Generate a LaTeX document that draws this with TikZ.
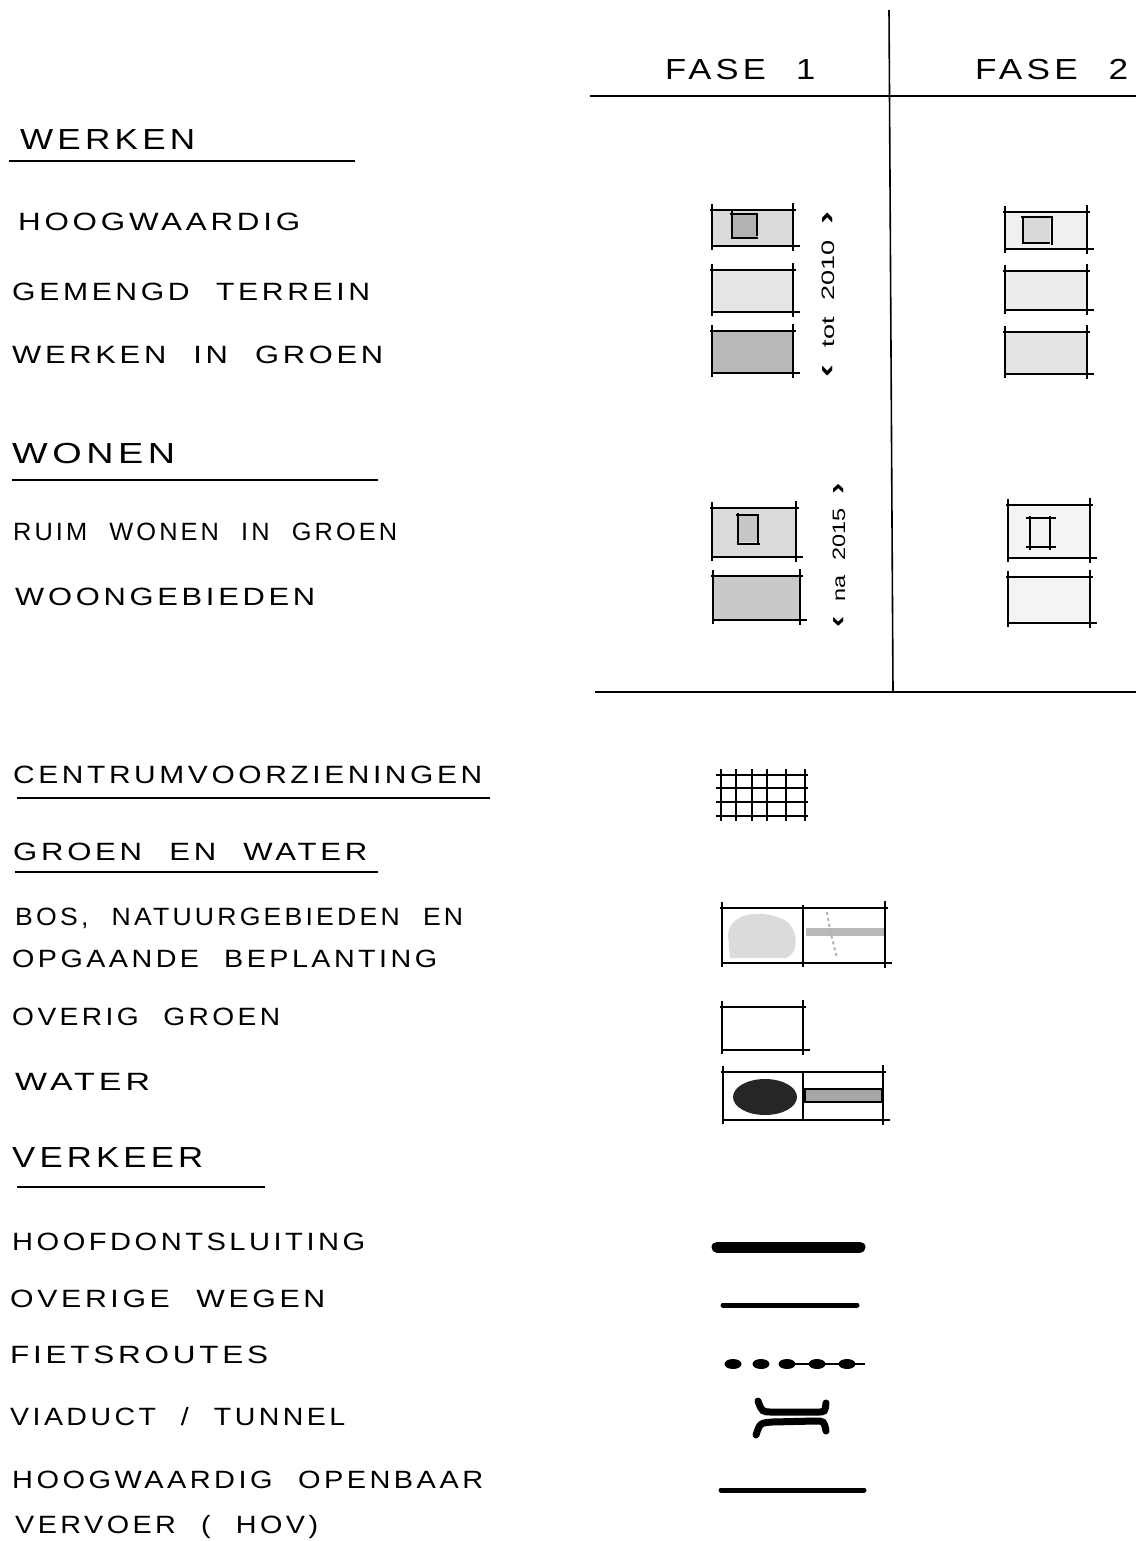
\documentclass[tikz,border=0pt]{standalone}
\usepackage{fontspec}
\setmainfont{Liberation Sans}
\newfontfamily\labfont{Liberation Sans}[LetterSpace=12,WordSpace=2.2]
\usepackage{graphicx}
\newsavebox\labbox
\newcommand\fitw[2]{\sbox\labbox{#2}\pgfmathsetmacro\fitfac{#1/\the\wd\labbox}\scalebox{\fitfac}[1]{\usebox\labbox}}
\tikzset{
  lab/.style={inner sep=0pt, anchor=base west, font=\labfont\fontsize{25}{28}\selectfont},
  head/.style={inner sep=0pt, anchor=base west, font=\labfont\fontsize{29}{32}\selectfont},
  uline/.style={line width=1.8pt},
  tline/.style={line width=1.6pt},
  boxline/.style={line width=1.7pt},
  rot/.style={inner sep=0pt, rotate=90, font=\fontsize{18}{20}\selectfont},
}
\newcommand\lab[5]{\node[#1] (#2) at (#3) {\fitw{#4}{#5}};}
\newcommand\chev[1]{{\bfseries\fontsize{26}{20}\selectfont #1}}
\newcommand\sbx[5]{%
  \fill[#5] (#1,#2) rectangle (#3,#4);
  \draw[boxline] (#1-2,#2) -- (#3+3,#2);
  \draw[boxline] (#1,#4) -- (#3+7,#4);
  \draw[boxline] (#1,#2-6) -- (#1,#4+4);
  \draw[boxline] (#3,#2-7) -- (#3,#4+5);}
\begin{document}
\begin{tikzpicture}[x=1pt,y=-1pt]
\useasboundingbox (0,0) rectangle (1136,1541);
\fill[white] (0,0) rectangle (1136,1541);

% table frame
\coordinate (vt) at (889,10);
\coordinate (vb) at (893,692);
\draw[tline] (vt) -- (vb);
\coordinate (ht1) at (590,96);
\coordinate (ht2) at (1136,96);
\draw[tline] (ht1) -- (ht2);
\coordinate (hb1) at (595,692);
\coordinate (hb2) at (1136,692);
\draw[tline] (hb1) -- (hb2);
\lab{head}{fase1}{665,80}{150}{FASE 1}
\lab{head}{fase2}{975,80}{153}{FASE 2}

% labels
\lab{head}{werken}{20,150}{175}{WERKEN}
\draw[uline] (9,161) -- (355,161);
\lab{lab}{hoog}{18,230}{282}{HOOGWAARDIG}
\lab{lab}{gemengd}{12,300}{358}{GEMENGD TERREIN}
\lab{lab}{wig}{12,363}{371}{WERKEN IN GROEN}
\lab{head}{wonen}{12,463}{163}{WONEN}
\draw[uline] (12,480) -- (378,480);
\lab{lab}{ruim}{13,540}{384}{RUIM WONEN IN GROEN}
\lab{lab}{woongeb}{15,605}{300}{WOONGEBIEDEN}
\lab{lab}{centrum}{13,783}{469}{CENTRUMVOORZIENINGEN}
\draw[uline] (17,798) -- (490,798);
\lab{lab}{groenwater}{13,860}{354}{GROEN EN WATER}
\draw[uline] (15,872) -- (378,872);
\lab{lab}{bos}{15,925}{448}{BOS, NATUURGEBIEDEN EN}
\lab{lab}{opgaande}{12,967}{425}{OPGAANDE BEPLANTING}
\lab{lab}{overig}{12,1025}{268}{OVERIG GROEN}
\lab{lab}{water}{15,1090}{135}{WATER}
\lab{head}{verkeer}{12,1167}{191}{VERKEER}
\draw[uline] (17,1187) -- (265,1187);
\lab{lab}{hoofd}{12,1250}{353}{HOOFDONTSLUITING}
\lab{lab}{overige}{10,1307}{315}{OVERIGE WEGEN}
\lab{lab}{fiets}{10,1363}{258}{FIETSROUTES}
\lab{lab}{viaduct}{10,1425}{335}{VIADUCT / TUNNEL}
\lab{lab}{hov1}{12,1488}{471}{HOOGWAARDIG OPENBAAR}
\lab{lab}{hov2}{15,1533}{303}{VERVOER ( HOV)}

% rotated period labels
\node[rot] (tot) at (828,294) {\fitw{166}{\chev{‹}\,\, tot\,\, 2010\,\, \chev{›}}};
\node[rot] (na) at (839,555) {\fitw{144}{\chev{‹}\,\, na\,\, 2015\,\, \chev{›}}};

% fase 1 boxes
\sbx{712}{210}{793}{246}{gray!28}
\fill[gray!60] (732,213) rectangle (757,237);
\draw[boxline] (732,211) -- (732,238) -- (758,238);
\draw[boxline] (730,214) -- (757,214) -- (757,236);
\sbx{712}{270}{793}{312}{gray!20}
\sbx{712}{331}{793}{373}{gray!55}
\sbx{712}{508}{796}{557}{gray!28}
\fill[gray!45] (738,515) rectangle (758,542);
\draw[boxline] (738,513) -- (738,544) -- (760,544);
\draw[boxline] (736,515) -- (758,515) -- (758,544);
\sbx{713}{576}{800}{620}{gray!42}

% fase 2 boxes
\sbx{1005}{212}{1087}{249}{gray!12}
\fill[gray!30] (1023,217) rectangle (1050,242);
\draw[boxline] (1023,217) -- (1023,243) -- (1050,243);
\draw[boxline] (1021,217) -- (1052,217) -- (1052,245);
\sbx{1005}{271}{1087}{310}{gray!15}
\sbx{1005}{332}{1087}{374}{gray!22}
\sbx{1008}{505}{1090}{558}{gray!9}
\draw[boxline] (1030,516) -- (1030,550);
\draw[boxline] (1050,516) -- (1050,550);
\draw[boxline] (1026,518) -- (1056,518);
\draw[boxline] (1026,547) -- (1056,547);
\sbx{1008}{577}{1090}{623}{gray!9}

% centrum grid
\foreach \gx in {721,736,752,767,786,805}
  \draw[line width=2pt] (\gx,769) -- (\gx,821);
\foreach \gy in {775,788,802,816}
  \draw[line width=2pt] (716,\gy) -- (808,\gy);

% bos
\sbx{722}{908}{885}{963}{white}
\fill[gray!28] (728,935) .. controls (730,912) and (760,910) .. (780,918)
  .. controls (800,925) and (800,955) .. (785,958) -- (730,958) -- cycle;
\draw[boxline] (803,905) -- (803,967);
\fill[gray!55] (806,928) rectangle (884,936);
\draw[line width=2pt, gray!60, dashed] (827,912) .. controls (830,930) .. (837,958);

% overig groen
\sbx{722}{1007}{803}{1050}{white}

% water
\sbx{723}{1072}{883}{1120}{white}
\draw[boxline] (803,1072) -- (803,1120);
\fill[black!85] (765,1097) ellipse [x radius=32, y radius=18];
\fill[gray!70] (805,1089) rectangle (882,1102);
\draw[line width=1.5pt] (805,1089) rectangle (882,1102);

% verkeer lines
\coordinate (h1) at (717,1247); \coordinate (h2) at (860,1247);
\draw[line width=11pt, line cap=round] (h1) -- (h2);
\coordinate (o1) at (723,1305); \coordinate (o2) at (857,1305);
\draw[line width=5pt, line cap=round] (o1) -- (o2);
\coordinate (f1) at (787,1364); \coordinate (f2) at (865,1364);
\draw[line width=1.5pt] (f1) -- (f2);
\foreach \fx in {733,761,787,817,847}
  \fill (\fx,1364) ellipse [x radius=8.5, y radius=5];
\draw[line width=7pt, line cap=round] (758,1401) .. controls (762,1412) .. (773,1412) -- (817,1412) .. controls (825,1412) .. (826,1403);
\draw[line width=7pt, line cap=round] (756,1435) .. controls (760,1423) .. (772,1422) -- (815,1421) .. controls (824,1421) .. (826,1431);
\coordinate (v1) at (721,1490); \coordinate (v2) at (864,1490);
\draw[line width=5pt, line cap=round] (v1) -- (v2);
\end{tikzpicture}
\end{document}
